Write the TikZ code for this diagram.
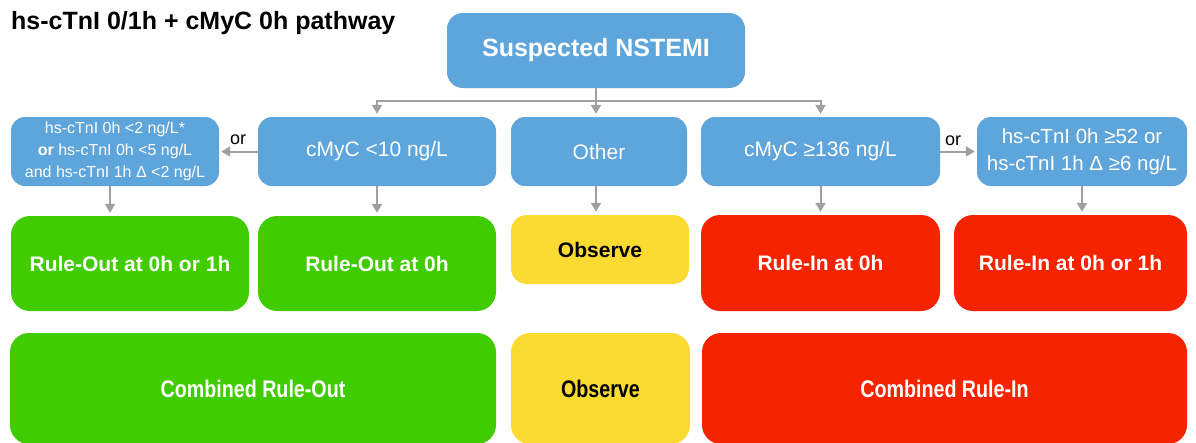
\documentclass[tikz,border=0pt]{standalone}
\usepackage{fontspec}
\setmainfont{Liberation Sans}
\usetikzlibrary{arrows.meta,calc}
\definecolor{bxblue}{HTML}{5DA5DA}
\definecolor{bxgreen}{HTML}{40CC00}
\definecolor{bxyellow}{HTML}{FBDA32}
\definecolor{bxred}{HTML}{F52300}
\definecolor{lngray}{HTML}{A0A0A0}
\begin{document}
\begin{tikzpicture}[x=1pt,y=-1pt,
  box/.style={rectangle,rounded corners=16pt,inner sep=2pt,align=center,draw=none},
  bluebox/.style={box,fill=bxblue,text=white},
  greenbox/.style={box,fill=bxgreen,text=white,rounded corners=19pt},
  yellowbox/.style={box,fill=bxyellow,text=black,rounded corners=19pt},
  redbox/.style={box,fill=bxred,text=white,rounded corners=19pt},
  arr/.style={draw=lngray,line width=2pt,-{Triangle[width=10pt,length=9pt]}},
  ln/.style={draw=lngray,line width=2pt},
  orlabel/.style={inner sep=0pt,text=black,font=\fontsize{18}{20}\selectfont}
]
\useasboundingbox (0,0) rectangle (1196,442);
\fill[white] (0,0) rectangle (1196,442);

% title
\node[anchor=base west,inner sep=0pt,font=\bfseries\fontsize{25}{28}\selectfont] (title) at (11,29) {hs-cTnI 0/1h + cMyC 0h pathway};

% top
\node[bluebox,minimum width=298pt,minimum height=75pt,font=\bfseries\fontsize{25}{30}\selectfont] (top) at (596,50.5) {Suspected NSTEMI};

% row 2
\node[bluebox,rounded corners=14pt,minimum width=208pt,minimum height=69pt,font=\fontsize{16}{22}\selectfont] (L2a) at (115,151.5)
  {hs-cTnI 0h <2 ng/L*\\\textbf{or} hs-cTnI 0h <5 ng/L\\and hs-cTnI 1h Δ <2 ng/L};
\node[bluebox,rounded corners=14pt,minimum width=238pt,minimum height=69pt,font=\fontsize{21}{25}\selectfont] (L2b) at (377,151.5) {cMyC <10 ng/L};
\node[bluebox,rounded corners=14pt,minimum width=176pt,minimum height=69pt,font=\fontsize{21}{25}\selectfont] (Oth) at (599,151.5) {Other};
\node[bluebox,rounded corners=14pt,minimum width=239pt,minimum height=69pt,font=\fontsize{21}{25}\selectfont] (R2b) at (820.5,151.5) {cMyC ≥136 ng/L};
\node[bluebox,rounded corners=14pt,minimum width=210pt,minimum height=69pt,font=\fontsize{20.5}{27}\selectfont] (R2a) at (1082,151.5)
  {hs-cTnI 0h ≥52 or\\hs-cTnI 1h Δ ≥6 ng/L};

% row 3
\node[greenbox,minimum width=238pt,minimum height=95pt,font=\bfseries\fontsize{21}{25}\selectfont] (R3a) at (130,263.5) {Rule-Out at 0h or 1h};
\node[greenbox,minimum width=238pt,minimum height=95pt,font=\bfseries\fontsize{21}{25}\selectfont] (R3b) at (377,263.5) {Rule-Out at 0h};
\node[yellowbox,rounded corners=16pt,minimum width=178pt,minimum height=69pt,font=\bfseries\fontsize{21}{25}\selectfont] (Obs) at (600,249.5) {Observe};
\node[redbox,minimum width=239pt,minimum height=96pt,font=\bfseries\fontsize{21}{25}\selectfont] (R3d) at (820.5,263) {Rule-In at 0h};
\node[redbox,minimum width=233pt,minimum height=96pt,font=\bfseries\fontsize{21}{25}\selectfont] (R3e) at (1070.5,263) {Rule-In at 0h or 1h};

% row 4
\node[greenbox,minimum width=486pt,minimum height=111pt,font=\bfseries\fontsize{24}{28}\selectfont] (C1) at (253,388.5) {\scalebox{0.82}[1]{Combined Rule-Out}};
\node[yellowbox,minimum width=179pt,minimum height=111pt,font=\bfseries\fontsize{24}{28}\selectfont] (C2) at (600.5,388.5) {\scalebox{0.82}[1]{Observe}};
\node[redbox,minimum width=485pt,minimum height=111pt,font=\bfseries\fontsize{24}{28}\selectfont] (C3) at (944.5,388.5) {\scalebox{0.82}[1]{Combined Rule-In}};

% connectors top
\coordinate (split) at ($(top.south)+(0,13)$);
\draw[ln] (top.south) -- (split);
\draw[ln] ([xshift=-1pt]split -| L2b.north) -- ([xshift=1pt]split -| R2b.north);
\draw[arr] (split -| L2b.north) -- ([yshift=3pt]L2b.north);
\draw[arr] (split) -- ([yshift=3pt]top.south |- Oth.north);
\draw[arr] (split -| R2b.north) -- ([yshift=3pt]R2b.north);

% or arrows
\draw[arr] (L2b.west) -- ([xshift=2pt]L2a.east);
\draw[arr] (R2b.east) -- ([xshift=-2pt]R2b.east -| R2a.west);
\node[orlabel] (orL) at (238,140) {or};
\node[orlabel] (orR) at (953,141) {or};

% row2 to row3
\draw[arr] ([xshift=-5pt]L2a.south) -- ([xshift=-5pt,yshift=3pt]L2a.south |- R3a.north);
\draw[arr] (L2b.south) -- ([yshift=3pt]L2b.south |- R3b.north);
\draw[arr] ([xshift=-3pt]Oth.south) -- ([xshift=-3pt,yshift=3pt]Oth.south |- Obs.north);
\draw[arr] (R2b.south) -- ([yshift=3pt]R2b.south |- R3d.north);
\draw[arr] (R2a.south) -- ([yshift=3pt]R2a.south |- R3e.north);
\end{tikzpicture}
\end{document}
